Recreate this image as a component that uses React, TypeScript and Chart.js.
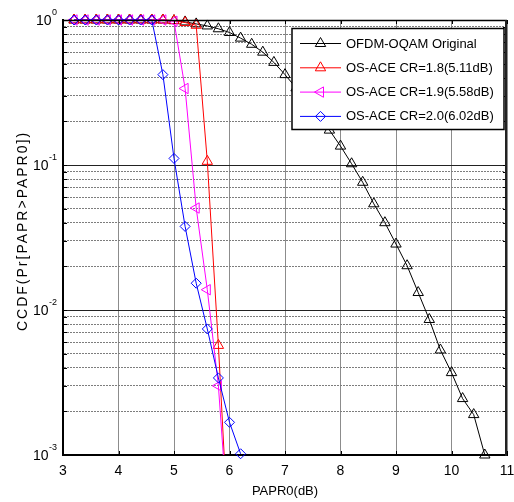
import React, { useEffect, useRef } from 'react';
import { Chart, registerables } from 'chart.js';

Chart.register(...registerables);

const FONT = "'Liberation Sans', Arial, Helvetica, sans-serif";

// ---------------- data ----------------
const paprOriginal = [3.2, 3.4, 3.6, 3.8, 4.0, 4.2, 4.4, 4.6, 4.8, 5.0, 5.2, 5.4, 5.6, 5.8, 6.0, 6.2, 6.4, 6.6, 6.8, 7.0, 7.2, 7.4, 7.6, 7.8, 8.0, 8.2, 8.4, 8.6, 8.8, 9.0, 9.2, 9.4, 9.6, 9.8, 10.0, 10.2, 10.4, 10.6];
const ccdfOriginal = [1, 1, 1, 1, 1, 1, 1, 1, 1, 0.99, 0.97, 0.94, 0.91, 0.87, 0.82, 0.75, 0.68, 0.6, 0.51, 0.42, 0.34, 0.272, 0.218, 0.174, 0.135, 0.102, 0.076, 0.054, 0.04, 0.0285, 0.0202, 0.0132, 0.0086, 0.0053, 0.0037, 0.00245, 0.0019, 0.001];

const paprCR18 = [3.2, 3.4, 3.6, 3.8, 4.0, 4.2, 4.4, 4.6, 4.8, 5.0, 5.2, 5.4, 5.6, 5.8, 6.0];
const ccdfCR18 = [1, 1, 1, 1, 1, 1, 1, 1, 1, 0.99, 0.96, 0.92, 0.106, 0.0057, 0.0002];

const paprCR19 = [3.2, 3.4, 3.6, 3.8, 4.0, 4.2, 4.4, 4.6, 4.8, 5.0, 5.2, 5.4, 5.6, 5.8, 6.0];
const ccdfCR19 = [1, 1, 1, 1, 1, 1, 1, 1, 1, 0.98, 0.337, 0.0505, 0.0138, 0.003, 0.00025];

const paprCR20 = [3.2, 3.4, 3.6, 3.8, 4.0, 4.2, 4.4, 4.6, 4.8, 5.0, 5.2, 5.4, 5.6, 5.8, 6.0, 6.2];
const ccdfCR20 = [1, 1, 1, 1, 1, 1, 1, 1, 0.42, 0.111, 0.0377, 0.0153, 0.0074, 0.0034, 0.00168, 0.00102];

const xTickValues = [3, 4, 5, 6, 7, 8, 9, 10, 11];
const yDecadeValues = [1, 0.1, 0.01, 0.001];
const yDecadeExponents = ['0', '-1', '-2', '-3'];
const yGridValues = [
  0.001, 0.002, 0.003, 0.004, 0.005, 0.006, 0.007, 0.008, 0.009,
  0.01, 0.02, 0.03, 0.04, 0.05, 0.06, 0.07, 0.08, 0.09,
  0.1, 0.2, 0.3, 0.4, 0.5, 0.6, 0.7, 0.8, 0.9, 1,
];
const seriesLabels = [
  'OFDM-OQAM Original',
  'OS-ACE CR=1.8(5.11dB)',
  'OS-ACE CR=1.9(5.58dB)',
  'OS-ACE CR=2.0(6.02dB)',
];
const xTitle = 'PAPR0(dB)';
const yTitle = 'CCDF(Pr[PAPR>PAPR0])';

// ---------------- styles ----------------
const clipBottom = { left: false, top: false, right: false, bottom: 0 };
const styles = [
  { color: '#000000', pointStyle: 'triangle', rotation: 0, radius: 6, order: 4, clip: false as any },
  { color: '#ff0000', pointStyle: 'triangle', rotation: 0, radius: 6, order: 3, clip: clipBottom as any },
  { color: '#ff00ff', pointStyle: 'triangle', rotation: -90, radius: 6, order: 2, clip: clipBottom as any },
  { color: '#0000ff', pointStyle: 'rectRot', rotation: 0, radius: 5, order: 1, clip: false as any },
];
const seriesX = [paprOriginal, paprCR18, paprCR19, paprCR20];
const seriesY = [ccdfOriginal, ccdfCR18, ccdfCR19, ccdfCR20];

const isDecade = (v: number) => {
  const l = Math.log10(v);
  return Math.abs(l - Math.round(l)) < 1e-6;
};

function markerPath(ctx: CanvasRenderingContext2D, style: string, x: number, y: number, r: number, rotDeg: number) {
  ctx.beginPath();
  if (style === 'triangle') {
    let rad = (rotDeg * Math.PI) / 180;
    for (let i = 0; i < 3; i++) {
      const px = x + Math.sin(rad) * r;
      const py = y - Math.cos(rad) * r;
      if (i === 0) ctx.moveTo(px, py);
      else ctx.lineTo(px, py);
      rad += (2 * Math.PI) / 3;
    }
  } else {
    ctx.moveTo(x - r, y);
    ctx.lineTo(x, y - r);
    ctx.lineTo(x + r, y);
    ctx.lineTo(x, y + r);
  }
  ctx.closePath();
}

const decorPlugin = {
  id: 'decor',
  afterDraw(chart: any) {
    const { ctx, chartArea } = chart;
    const { left, right, top, bottom } = chartArea;
    const xs = chart.scales.x;
    const ys = chart.scales.y;
    ctx.save();

    // inward tick marks
    ctx.strokeStyle = '#000';
    ctx.lineWidth = 1;
    ctx.beginPath();
    yGridValues.forEach((v) => {
      const py = Math.round(ys.getPixelForValue(v)) + 0.5;
      ctx.moveTo(left, py);
      ctx.lineTo(left + 4, py);
      ctx.moveTo(right - 4, py);
      ctx.lineTo(right, py);
    });
    xTickValues.forEach((v) => {
      const px = Math.round(xs.getPixelForValue(v)) + 0.5;
      ctx.moveTo(px, bottom);
      ctx.lineTo(px, bottom - 4);
      ctx.moveTo(px, top);
      ctx.lineTo(px, top + 4);
    });
    ctx.stroke();

    // top and right frame
    ctx.lineWidth = 1.5;
    ctx.beginPath();
    ctx.moveTo(left, top + 0.5);
    ctx.lineTo(right, top + 0.5);
    ctx.stroke();
    ctx.lineWidth = 2;
    ctx.strokeStyle = '#222';
    ctx.beginPath();
    ctx.moveTo(right - 1, top);
    ctx.lineTo(right - 1, bottom + 1);
    ctx.stroke();

    // y tick labels with superscript exponents
    ctx.fillStyle = '#000';
    yDecadeValues.forEach((v, i) => {
      const py = ys.getPixelForValue(v);
      const exp = yDecadeExponents[i];
      const rightEdge = 57;
      ctx.font = `9px ${FONT}`;
      const ew = ctx.measureText(exp).width;
      ctx.textAlign = 'left';
      ctx.textBaseline = 'middle';
      ctx.fillText(exp, rightEdge - ew, py - 7);
      ctx.font = `14px ${FONT}`;
      ctx.textAlign = 'right';
      ctx.fillText('10', rightEdge - ew - 0.5, py + 1);
    });

    // y title
    ctx.save();
    ctx.translate(26.5, 231);
    ctx.rotate(-Math.PI / 2);
    ctx.font = `14px ${FONT}`;
    (ctx as any).letterSpacing = '2px';
    ctx.textAlign = 'center';
    ctx.textBaseline = 'alphabetic';
    ctx.fillText(yTitle, 0, 0);
    ctx.restore();

    // legend
    const bx = 292, by = 28.5, bw = 212, bh = 101;
    ctx.fillStyle = '#fff';
    ctx.fillRect(bx, by, bw, bh);
    ctx.strokeStyle = '#000';
    ctx.lineWidth = 1.5;
    ctx.strokeRect(bx, by, bw, bh);
    seriesLabels.forEach((label, i) => {
      const st = styles[i];
      const ry = 43.5 + i * 24.3;
      ctx.strokeStyle = st.color;
      ctx.lineWidth = 1;
      ctx.beginPath();
      ctx.moveTo(300, ry);
      ctx.lineTo(341, ry);
      ctx.stroke();
      markerPath(ctx, st.pointStyle, 320.5, ry, st.radius, st.rotation);
      ctx.stroke();
      ctx.fillStyle = '#000';
      ctx.font = `13px ${FONT}`;
      ctx.textAlign = 'left';
      ctx.textBaseline = 'middle';
      ctx.fillText(label, 346, ry + 0.5);
    });

    ctx.restore();
  },
};

export default function App() {
  const ref = useRef<HTMLCanvasElement>(null);
  useEffect(() => {
    document.body.style.margin = '0';
    document.body.style.overflow = 'hidden';
    const datasets = seriesLabels.map((label, i) => ({
      label,
      data: seriesX[i].map((x, j) => ({ x, y: seriesY[i][j] })),
      borderColor: styles[i].color,
      backgroundColor: 'rgba(0,0,0,0)',
      borderWidth: 1,
      pointStyle: styles[i].pointStyle as any,
      pointRotation: styles[i].rotation,
      pointRadius: styles[i].radius,
      pointBorderColor: styles[i].color,
      pointBackgroundColor: 'rgba(0,0,0,0)',
      pointBorderWidth: 1,
      tension: 0,
      fill: false,
      order: styles[i].order,
      clip: styles[i].clip,
    }));
    const chart = new Chart(ref.current as HTMLCanvasElement, {
      type: 'line',
      data: { datasets },
      options: {
        responsive: false,
        animation: false,
        devicePixelRatio: 1,
        layout: { padding: { left: 0, top: 20, right: 6, bottom: 0 } },
        plugins: {
          legend: { display: false },
          tooltip: { enabled: false },
        },
        scales: {
          x: {
            type: 'linear',
            min: 3,
            max: 11,
            afterBuildTicks: (s: any) => {
              s.ticks = xTickValues.map((v) => ({ value: v }));
            },
            afterFit: (s: any) => {
              s.height = 47;
              s.paddingLeft = 0;
              s.paddingRight = 0;
            },
            ticks: {
              font: { size: 14, family: FONT },
              color: '#000',
              padding: 8,
              maxRotation: 0,
              autoSkip: false,
              callback: (v: any) => String(v),
            },
            grid: { color: '#8c8c8c', lineWidth: 1, drawTicks: false },
            border: { display: true, color: '#000', width: 2 },
            title: {
              display: true,
              text: xTitle,
              font: { size: 13, family: FONT },
              color: '#000',
              padding: { top: 0, bottom: 3 },
            },
          },
          y: {
            type: 'logarithmic',
            min: 0.001,
            max: 1,
            afterBuildTicks: (s: any) => {
              s.ticks = yGridValues.map((v) => ({ value: v, major: isDecade(v) }));
            },
            afterFit: (s: any) => {
              s.width = 63;
            },
            ticks: { display: false },
            grid: {
              drawTicks: false,
              lineWidth: 1,
              color: (c: any) => (c.tick && isDecade(c.tick.value) ? '#222' : '#7d7d7d'),
            },
            border: {
              display: true,
              color: '#000',
              width: 2,
              dash: (c: any) => (c.tick && isDecade(c.tick.value) ? [] : [2, 1]),
            } as any,
          },
        },
      } as any,
      plugins: [decorPlugin],
    });
    return () => chart.destroy();
  }, []);
  return (
    <div style={{ width: 514, height: 502 }}>
      <canvas ref={ref} width={514} height={502} style={{ display: 'block' }} />
    </div>
  );
}
